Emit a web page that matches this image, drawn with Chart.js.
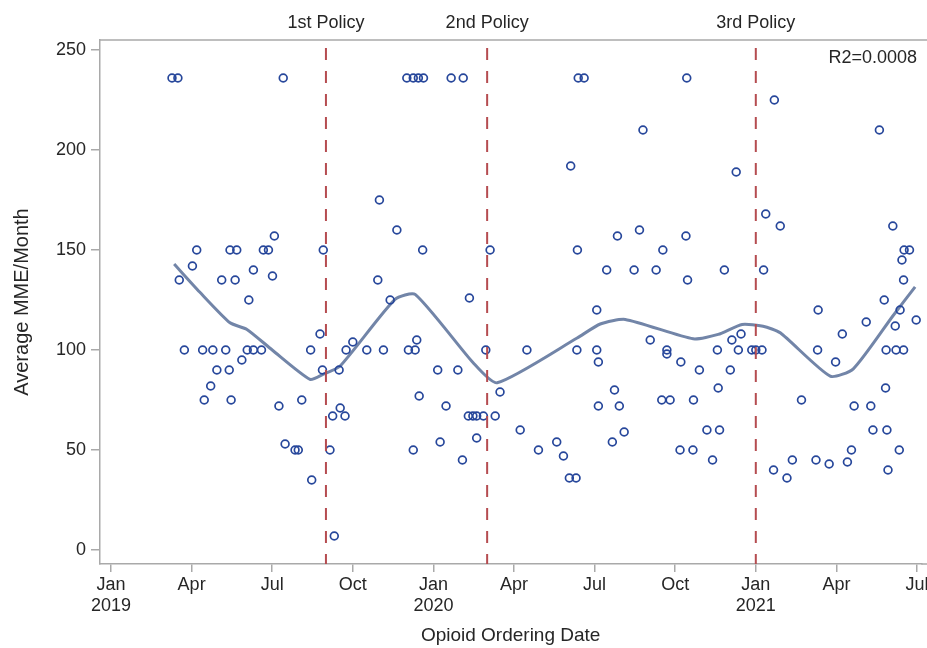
<!DOCTYPE html>
<html>
<head>
<meta charset="utf-8">
<script src="https://cdn.jsdelivr.net/npm/chart.js@4.4.0/dist/chart.umd.min.js"></script>
<style>
  html, body { margin: 0; padding: 0; background: #ffffff; }
  #wrap { width: 927px; height: 648px; }
</style>
</head>
<body>
<div id="wrap"><canvas id="mmeChart" width="927" height="648"></canvas></div>
<script>
// ---- data (x = months since Jan 2019) ----
const monthTicks = [0, 3, 6, 9, 12, 15, 18, 21, 24, 27, 30];
const monthLabels = [['Jan', '2019'], 'Apr', 'Jul', 'Oct', ['Jan', '2020'], 'Apr', 'Jul', 'Oct', ['Jan', '2021'], 'Apr', 'Jul'];
const yTicks = [0, 50, 100, 150, 200, 250];

const policyMonths = [8, 14, 24];
const policyLabels = ['1st Policy', '2nd Policy', '3rd Policy'];
const r2Text = 'R2=0.0008';

const orderMonth = [
  2.27, 2.49, 2.54, 2.73, 3.03, 3.19, 3.41, 3.47, 3.71, 3.79, 3.94, 4.12, 4.27, 4.40, 4.43, 4.47,
  4.62, 4.68, 4.87, 5.07, 5.13, 5.30, 5.30, 5.60, 5.67, 5.86, 6.01, 6.08, 6.25, 6.41, 6.48, 6.85,
  6.97, 7.10, 7.43, 7.47, 7.78, 7.87, 7.90,
  8.15, 8.25, 8.31, 8.49, 8.53, 8.71, 8.75, 9.00, 9.52, 9.93, 9.99, 10.14, 10.39, 10.64, 11.01,
  11.07, 11.25, 11.25, 11.32, 11.38, 11.44, 11.47, 11.60, 11.63, 12.16, 12.25, 12.47, 12.66, 12.91,
  13.08, 13.11, 13.30, 13.34, 13.47, 13.61, 13.61, 13.86, 13.95,
  14.11, 14.30, 14.48, 15.23, 15.48, 15.91, 16.59, 16.84, 17.06, 17.11, 17.31, 17.34, 17.36, 17.39,
  17.61, 18.08, 18.08, 18.14, 18.14, 18.45, 18.66, 18.74, 18.85, 18.92, 19.10, 19.47, 19.67, 19.80,
  20.07, 20.29, 20.50, 20.54, 20.69, 20.69, 20.81, 21.18, 21.21, 21.40, 21.43, 21.46, 21.66, 21.68,
  21.90, 22.18, 22.39, 22.57, 22.60, 22.65, 22.83, 23.05, 23.11, 23.27, 23.35, 23.45, 23.85,
  24.00, 24.23, 24.29, 24.37, 24.66, 24.69, 24.91, 25.16, 25.36, 25.70, 26.24, 26.30, 26.32, 26.73,
  26.97, 27.22, 27.41, 27.56, 27.66, 28.11, 28.28, 28.36, 28.60, 28.78, 28.83, 28.85, 28.88, 28.92,
  29.10, 29.19, 29.22, 29.34, 29.37, 29.44, 29.50, 29.50, 29.52, 29.72, 29.97
];
const avgMME = [
  236, 236, 135, 100, 142, 150, 100, 75, 82, 100, 90, 135, 100, 90, 150, 75,
  135, 150, 95, 100, 125, 140, 100, 100, 150, 150, 137, 157, 72, 236, 53, 50,
  50, 75, 100, 35, 108, 90, 150,
  50, 67, 7, 90, 71, 67, 100, 104, 100, 135, 175, 100, 125, 160, 236,
  100, 50, 236, 100, 105, 236, 77, 150, 236, 90, 54, 72, 236, 90,
  45, 236, 67, 126, 67, 67, 56, 67, 100,
  150, 67, 79, 60, 100, 50, 54, 47, 36, 192, 36, 100, 150, 236,
  236, 120, 100, 94, 72, 140, 54, 80, 157, 72, 59, 140, 160, 210,
  105, 140, 75, 150, 100, 98, 75, 50, 94, 157, 236, 135, 50, 75,
  90, 60, 45, 100, 81, 60, 140, 90, 105, 189, 100, 108, 100,
  100, 100, 140, 168, 40, 225, 162, 36, 45, 75, 45, 100, 120, 43,
  94, 108, 44, 50, 72, 114, 72, 60, 210, 125, 81, 100, 60, 40,
  162, 112, 100, 50, 120, 145, 135, 100, 150, 150, 115
];

// loess-style trend line
const smoothMonth = [2.35, 3.3, 4.43, 5.06, 6.0, 7.41, 7.89, 8.53, 10.57, 11.32, 13.48, 14.37, 17.35, 18.21, 19.14, 21.67, 22.6, 23.49, 24.27, 24.91, 26.77, 27.63, 29.1, 29.93];
const smoothMME = [143, 129, 113.6, 110.3, 100, 85.3, 87.8, 92, 125.3, 127.8, 93.6, 83.6, 106, 113, 115.3, 105.6, 107.8, 112.8, 111.9, 108.6, 86.9, 90.6, 117, 131.6];

const points = orderMonth.map((m, i) => ({ x: m, y: avgMME[i] }));
const trend = smoothMonth.map((m, i) => ({ x: m, y: smoothMME[i] }));

const axisGray = '#a9a9a9';
const textColor = '#262626';
const fontFamily = '"Liberation Sans", Arial, sans-serif';

// vertical policy lines, labels on top, R2 note, frame lines out to the edge
const policyPlugin = {
  id: 'policyLines',
  afterDatasetsDraw(chart) {
    const { ctx, chartArea, scales } = chart;
    ctx.save();
    ctx.strokeStyle = axisGray;
    ctx.lineWidth = 1.5;
    ctx.beginPath();
    ctx.moveTo(chartArea.left, chartArea.top);
    ctx.lineTo(chart.width, chartArea.top);
    ctx.moveTo(chartArea.right, chartArea.bottom);
    ctx.lineTo(chart.width, chartArea.bottom);
    ctx.stroke();

    ctx.strokeStyle = '#b54c50';
    ctx.lineWidth = 2;
    ctx.setLineDash([12, 11]);
    policyMonths.forEach((m, i) => {
      const px = scales.x.getPixelForValue(m);
      ctx.beginPath();
      ctx.moveTo(px, chartArea.top + 8);
      ctx.lineTo(px, chartArea.bottom);
      ctx.stroke();
      ctx.fillStyle = textColor;
      ctx.font = '18px ' + fontFamily;
      ctx.textAlign = 'center';
      ctx.textBaseline = 'middle';
      ctx.fillText(policyLabels[i], px, chartArea.top - 17);
    });
    ctx.setLineDash([]);
    ctx.fillStyle = textColor;
    ctx.font = '18px ' + fontFamily;
    ctx.textAlign = 'right';
    ctx.textBaseline = 'middle';
    ctx.fillText(r2Text, 917, chartArea.top + 18);
    ctx.restore();
  }
};

new Chart(document.getElementById('mmeChart').getContext('2d'), {
  type: 'scatter',
  data: {
    datasets: [
      {
        label: 'Average MME',
        data: points,
        pointStyle: 'circle',
        pointRadius: 3.9,
        pointBorderWidth: 1.7,
        pointBackgroundColor: 'rgba(0,0,0,0)',
        pointBorderColor: '#27479b',
        showLine: false
      },
      {
        label: 'Trend',
        type: 'line',
        data: trend,
        borderColor: '#7285a8',
        borderWidth: 3,
        pointRadius: 0,
        tension: 0.2,
        fill: false
      }
    ]
  },
  options: {
    responsive: false,
    animation: false,
    devicePixelRatio: 1,
    layout: { padding: { top: 40, right: 0, left: 0, bottom: 0 } },
    plugins: {
      legend: { display: false },
      tooltip: { enabled: false }
    },
    scales: {
      x: {
        type: 'linear',
        min: -0.41,
        max: 30.16,
        afterBuildTicks(axis) { axis.ticks = monthTicks.map(v => ({ value: v })); },
        afterFit(scale) { scale.height = 84; scale.paddingLeft = 0; scale.paddingRight = 0; },
        grid: { drawOnChartArea: false, drawTicks: true, tickLength: 8, color: axisGray, lineWidth: 1.5 },
        border: { color: axisGray, width: 1.5 },
        ticks: {
          color: textColor,
          padding: 3,
          maxRotation: 0,
          autoSkip: false,
          font: { family: fontFamily, size: 18, lineHeight: 1.15 },
          callback(value) { return monthLabels[monthTicks.indexOf(value)]; }
        },
        title: {
          display: true,
          text: 'Opioid Ordering Date',
          color: textColor,
          font: { family: fontFamily, size: 19 },
          padding: { top: 0, bottom: 1 }
        }
      },
      y: {
        min: -7,
        max: 255,
        afterBuildTicks(axis) { axis.ticks = yTicks.map(v => ({ value: v })); },
        afterFit(scale) { scale.width = 100; },
        grid: { drawOnChartArea: false, drawTicks: true, tickLength: 9, color: axisGray, lineWidth: 1.5 },
        border: { color: axisGray, width: 1.5 },
        ticks: {
          color: textColor,
          padding: 5,
          font: { family: fontFamily, size: 18 }
        },
        title: {
          display: true,
          text: 'Average MME/Month',
          color: textColor,
          font: { family: fontFamily, size: 20 },
          padding: { top: 10, bottom: 0 }
        }
      }
    }
  },
  plugins: [policyPlugin]
});
</script>
</body>
</html>
